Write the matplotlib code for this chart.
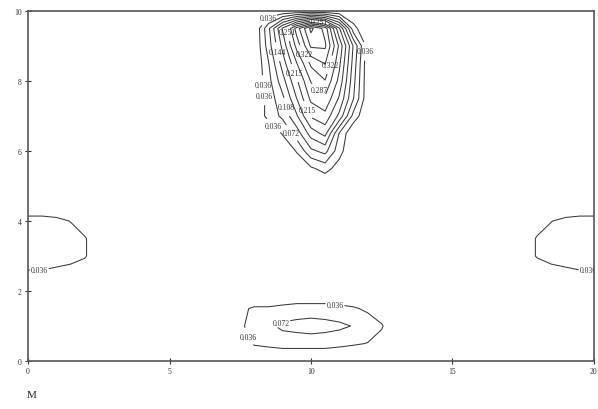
import numpy as np
import matplotlib
matplotlib.use("Agg")
import matplotlib.pyplot as plt

# contour levels as printed on the labels
levels = [0.036, 0.072, 0.108, 0.144, 0.179, 0.215, 0.251, 0.287, 0.322, 0.358, 0.394, 0.430]

# main peak near the top, x 7.5..12.5, y 5..10 (step 0.5)
peak_x = [7.5, 8, 8.5, 9, 9.5, 10, 10.5, 11, 11.5, 12, 12.5]
peak_y = [5, 5.5, 6, 6.5, 7, 7.5, 8, 8.5, 9, 9.5, 10]
peak_z = [
    [0, 0, 0, 0, 0, 0, 0, 0, 0, 0, 0],
    [0, 0, 0, 0, 0, 0.03, 0.05, 0.02, 0, 0, 0],
    [0, 0, 0, 0, 0.04, 0.10, 0.12, 0.05, 0, 0, 0],
    [0, 0, 0, 0.04, 0.09, 0.16, 0.19, 0.07, 0, 0, 0],
    [0, 0, 0.05, 0.08, 0.14, 0.22, 0.24, 0.17, 0.06, 0, 0],
    [0, 0, 0.05, 0.10, 0.18, 0.26, 0.28, 0.21, 0.11, 0.01, 0],
    [0, 0, 0.06, 0.13, 0.21, 0.29, 0.32, 0.24, 0.12, 0.01, 0],
    [0, 0, 0.07, 0.16, 0.25, 0.33, 0.36, 0.26, 0.13, 0.01, 0],
    [0, 0, 0.09, 0.19, 0.30, 0.40, 0.40, 0.28, 0.14, 0.02, 0],
    [0, 0, 0.10, 0.22, 0.34, 0.44, 0.38, 0.22, 0.05, 0, 0],
    [0, 0, 0, 0, 0, 0, 0, 0, 0, 0, 0],
]

# flat lobe near the bottom, x 7..13, y 0..2
low_x = [7, 7.5, 8, 8.5, 9, 9.5, 10, 10.5, 11, 11.5, 12, 12.5, 13]
low_y = [0, 0.5, 1, 1.5, 2]
low_z = [
    [0, 0, 0, 0, 0, 0, 0, 0, 0, 0, 0, 0, 0],
    [0, 0.02, 0.04, 0.045, 0.05, 0.05, 0.05, 0.05, 0.045, 0.04, 0.035, 0.02, 0],
    [0, 0.03, 0.05, 0.065, 0.08, 0.085, 0.09, 0.085, 0.08, 0.07, 0.055, 0.04, 0],
    [0, 0.03, 0.04, 0.04, 0.045, 0.05, 0.05, 0.05, 0.045, 0.04, 0.03, 0.01, 0],
    [0, 0, 0, 0, 0, 0, 0, 0, 0, 0, 0, 0, 0],
]

# lobes on the left and right edges, y 2..5
side_y = [2, 2.5, 3, 3.5, 4, 4.5, 5]
left_x = [0, 0.5, 1, 1.5, 2, 2.5, 3]
left_z = [
    [0, 0, 0, 0, 0, 0, 0],
    [0.03, 0.03, 0.025, 0.02, 0.01, 0, 0],
    [0.06, 0.06, 0.055, 0.05, 0.04, 0.01, 0],
    [0.06, 0.06, 0.055, 0.05, 0.04, 0.01, 0],
    [0.05, 0.05, 0.045, 0.035, 0.01, 0, 0],
    [0, 0, 0, 0, 0, 0, 0],
    [0, 0, 0, 0, 0, 0, 0],
]
right_x = [17, 17.5, 18, 18.5, 19, 19.5, 20]
right_z = [
    [0, 0, 0, 0, 0, 0, 0],
    [0, 0, 0.005, 0.02, 0.025, 0.03, 0.03],
    [0, 0.01, 0.04, 0.05, 0.055, 0.06, 0.06],
    [0, 0.01, 0.04, 0.05, 0.055, 0.06, 0.06],
    [0, 0, 0.015, 0.035, 0.045, 0.05, 0.05],
    [0, 0, 0, 0, 0, 0, 0],
    [0, 0, 0, 0, 0, 0, 0],
]

# where the labels sit in the reference
label_spots = [
    (8.55, 9.75), (10.3, 9.7), (9.15, 9.4), (8.9, 8.85), (9.8, 8.8),
    (10.7, 8.45), (9.35, 8.2), (8.4, 7.9), (10.3, 7.75), (8.0, 7.55),
    (9.1, 7.25), (9.8, 7.15), (8.65, 6.7), (9.3, 6.5), (11.95, 8.85),
    (10.85, 1.6), (9.0, 1.0), (7.8, 0.7), (0.4, 2.65), (19.8, 2.65),
]

# full grid, zero outside the lobes
gx = np.arange(0, 20.01, 0.5)
gy = np.arange(0, 10.01, 0.5)
Z = np.zeros((len(gy), len(gx)))


def put(xs, ys, zs):
    ix = np.searchsorted(gx, np.array(xs) - 1e-9)
    iy = np.searchsorted(gy, np.array(ys) - 1e-9)
    Z[np.ix_(iy, ix)] = np.array(zs)


put(peak_x, peak_y, peak_z)
put(low_x, low_y, low_z)
put(left_x, side_y, left_z)
put(right_x, side_y, right_z)

plt.rcParams['font.family'] = ['Liberation Serif', 'DejaVu Serif']

fig = plt.figure(figsize=(5.98, 4.10), dpi=100)
ax = fig.add_axes([0.047, 0.117, 0.946, 0.854])

cs = ax.contour(gx, gy, Z, levels=levels, colors='#3a3a3a', linewidths=0.75)
labels = ax.clabel(cs, fmt='%.3f', fontsize=5.5, inline=True, inline_spacing=1,
                   manual=label_spots)
for t in labels:
    t.set_rotation(0)
    t.set_color('#333333')

ax.set_xlim(0, 20)
ax.set_ylim(0, 10)
ax.set_xticks([0, 5, 10, 15, 20])
ax.set_yticks([0, 2, 4, 6, 8, 10])
ax.tick_params(direction='inout', length=5, width=0.8, labelsize=5.5,
               colors='#333333', pad=2)
for s in ax.spines.values():
    s.set_color('#555555')
    s.set_linewidth(1.2)

fig.text(0.045, 0.03, 'M', fontsize=8, color='#222222')

fig.savefig('out.png', dpi=100)
